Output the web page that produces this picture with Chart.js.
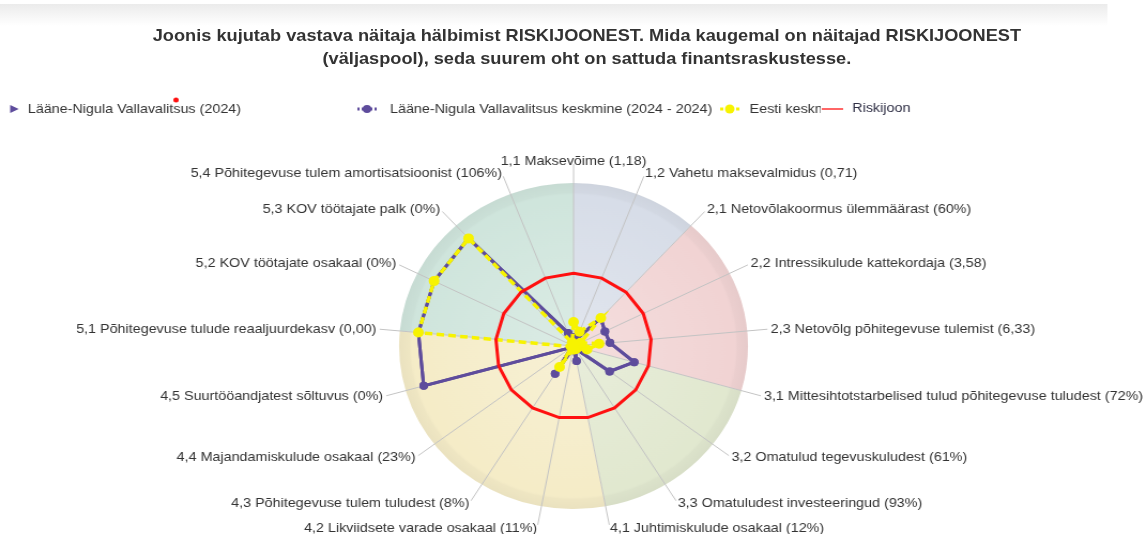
<!DOCTYPE html>
<html>
<head>
<meta charset="utf-8">
<script src="https://cdn.jsdelivr.net/npm/chart.js@4.4.1/dist/chart.umd.min.js"></script>
<style>
  html, body { margin: 0; padding: 0; background: #fff; overflow: hidden; }
  #page {
    position: relative; width: 1068px; height: 534px;
    transform: scaleX(1.07); transform-origin: 0 0;
    font-family: "Liberation Sans", Arial, sans-serif;
  }
  #band {
    position: absolute; left: 0; top: 4px; width: 1035px; height: 22px;
    background: linear-gradient(#ebebeb, #ffffff);
  }
  #title {
    position: absolute; left: 0; top: 24px; width: 1097px;
    text-align: center; font-weight: bold; font-size: 17px; line-height: 23px; color: #333;
  }
  #chart { position: absolute; left: 0; top: 0; }
</style>
</head>
<body>
<div id="page">
  <div id="band"></div>
  <div id="title">Joonis kujutab vastava näitaja hälbimist RISKIJOONEST. Mida kaugemal on näitajad RISKIJOONEST<br>(väljaspool), seda suurem oht on sattuda finantsraskustesse.</div>
  <canvas id="chart" width="1068" height="534"></canvas>
</div>
<script>
// axes, clockwise from the top
const AXIS_LABELS = [
  '1,1 Maksevõime (1,18)',
  '1,2 Vahetu maksevalmidus (0,71)',
  '2,1 Netovõlakoormus ülemmäärast (60%)',
  '2,2 Intressikulude kattekordaja (3,58)',
  '2,3 Netovõlg põhitegevuse tulemist (6,33)',
  '3,1 Mittesihtotstarbelised tulud põhitegevuse tuludest (72%)',
  '3,2 Omatulud tegevuskuludest (61%)',
  '3,3 Omatuludest investeeringud (93%)',
  '4,1 Juhtimiskulude osakaal (12%)',
  '4,2 Likviidsete varade osakaal (11%)',
  '4,3 Põhitegevuse tulem tuludest (8%)',
  '4,4 Majandamiskulude osakaal (23%)',
  '4,5 Suurtööandjatest sõltuvus (0%)',
  '5,1 Põhitegevuse tulude reaaljuurdekasv (0,00)',
  '5,2 KOV töötajate osakaal (0%)',
  '5,3 KOV töötajate palk (0%)',
  '5,4 Põhitegevuse tulem amortisatsioonist (106%)'
];

// deviation from the risk line (1 = on the line)
const VALD_2024 =      [0.12, 0.10, 0.52, 0.45, 0.47, 0.81, 0.58, 0.04, 0.21, 0.03, 0.45, 0.03, 2.00, 2.00, 2.00, 2.00, 0.19];
const VALD_KESKMINE =  [0.12, 0.10, 0.52, 0.45, 0.47, 0.81, 0.58, 0.04, 0.21, 0.03, 0.45, 0.03, 2.00, 2.00, 2.00, 2.00, 0.19];
const EESTI_KESKMINE = [0.33, 0.21, 0.52, 0.10, 0.33, 0.18, 0.05, 0.05, 0.05, 0.05, 0.34, 0.03, 0.03, 2.00, 2.00, 2.00, 0.05];
const RISKIJOON =      [1, 1, 1, 1, 1, 1, 1, 1, 1, 1, 1, 1, 1, 1, 1, 1, 1];

const SERIES_NAMES = [
  'Lääne-Nigula Vallavalitsus (2024)',
  'Lääne-Nigula Vallavalitsus keskmine (2024 - 2024)',
  'Eesti keskmine',
  'Riskijoon'
];

// background sector colours for groups 1..5
const GROUP_COLORS = ['#d7dde8', '#f1d3d3', '#e1e8cf', '#f5ecc7', '#cfe5dc'];

const PURPLE = '#5e4c9c';
const YELLOW = '#f7f300';
const RED = '#ff1010';
const SCALE_MAX = 2.5;
const PIE_MAX = 2.24;
const LABEL_R = 185;
const TEXT_FONT = '13.4px "Liberation Sans", Arial, sans-serif';

// coloured pie behind the radar
const sectorPlugin = {
  id: 'sectors',
  beforeDraw(chart) {
    const r = chart.scales.r;
    const ctx = chart.ctx;
    const R = r.getDistanceFromCenterForValue(PIE_MAX);
    const n = AXIS_LABELS.length;
    const step = Math.PI * 2 / n;
    // group axes by their first number
    const groups = [];
    AXIS_LABELS.forEach((l, i) => {
      const g = l.split(',')[0];
      if (!groups.length || groups[groups.length - 1].g !== g) groups.push({ g, start: i, count: 0 });
      groups[groups.length - 1].count++;
    });
    ctx.save();
    groups.forEach((grp, k) => {
      const a0 = r.getIndexAngle(grp.start) - Math.PI / 2;
      const a1 = a0 + grp.count * step;
      ctx.beginPath();
      ctx.moveTo(r.xCenter, r.yCenter);
      ctx.arc(r.xCenter, r.yCenter, R, a0, a1);
      ctx.closePath();
      ctx.fillStyle = GROUP_COLORS[k];
      ctx.fill();
    });
    const grad = ctx.createRadialGradient(r.xCenter, r.yCenter, 0, r.xCenter, r.yCenter, R);
    grad.addColorStop(0, 'rgba(255,255,255,0.25)');
    grad.addColorStop(0.92, 'rgba(255,255,255,0)');
    grad.addColorStop(0.94, 'rgba(90,90,90,0.04)');
    grad.addColorStop(1, 'rgba(90,90,90,0.07)');
    ctx.beginPath();
    ctx.arc(r.xCenter, r.yCenter, R, 0, Math.PI * 2);
    ctx.fillStyle = grad;
    ctx.fill();
    ctx.restore();
  }
};

// axis labels
const labelPlugin = {
  id: 'axisLabels',
  afterDraw(chart) {
    const r = chart.scales.r;
    const ctx = chart.ctx;
    ctx.save();
    ctx.font = TEXT_FONT;
    ctx.fillStyle = '#333';
    ctx.textBaseline = 'middle';
    AXIS_LABELS.forEach((text, i) => {
      const s = Math.sin(r.getIndexAngle(i));
      const top = Math.abs(s) < 0.05;
      const p = r.getPointPosition(i, LABEL_R);
      ctx.textAlign = top ? 'center' : (s > 0 ? 'left' : 'right');
      ctx.fillText(text, p.x, p.y);
    });
    ctx.restore();
  }
};

// legend row
const legendPlugin = {
  id: 'legendRow',
  afterDraw(chart) {
    const ctx = chart.ctx;
    const y = 109;
    ctx.save();
    ctx.font = TEXT_FONT;
    ctx.textBaseline = 'middle';

    // 1: pennant
    ctx.fillStyle = PURPLE;
    ctx.beginPath();
    ctx.moveTo(9.5, y - 4);
    ctx.lineTo(17.5, y);
    ctx.lineTo(9.5, y + 4);
    ctx.closePath();
    ctx.fill();
    ctx.fillStyle = '#333';
    ctx.fillText(SERIES_NAMES[0], 26, y);
    ctx.fillStyle = RED;
    ctx.beginPath();
    ctx.arc(164.5, y - 9, 2.5, 0, Math.PI * 2);
    ctx.fill();

    // 2: purple line + dot
    ctx.strokeStyle = PURPLE;
    ctx.lineWidth = 3;
    ctx.setLineDash([2, 2]);
    ctx.beginPath(); ctx.moveTo(334, y); ctx.lineTo(352, y); ctx.stroke();
    ctx.setLineDash([]);
    ctx.fillStyle = PURPLE;
    ctx.beginPath(); ctx.arc(343, y, 4, 0, Math.PI * 2); ctx.fill();
    ctx.fillStyle = '#333';
    ctx.fillText(SERIES_NAMES[1], 364.5, y);

    // 3: yellow dashed + dot, text clipped
    ctx.strokeStyle = YELLOW;
    ctx.setLineDash([3, 2]);
    ctx.beginPath(); ctx.moveTo(673, y); ctx.lineTo(691, y); ctx.stroke();
    ctx.setLineDash([]);
    ctx.fillStyle = YELLOW;
    ctx.beginPath(); ctx.arc(682, y, 4.5, 0, Math.PI * 2); ctx.fill();
    ctx.save();
    ctx.beginPath(); ctx.rect(695, y - 12, 72, 24); ctx.clip();
    ctx.fillStyle = '#333';
    ctx.fillText(SERIES_NAMES[2], 700.5, y);
    ctx.restore();

    // 4: red line
    ctx.strokeStyle = '#ff6666';
    ctx.lineWidth = 2;
    ctx.beginPath(); ctx.moveTo(768, y); ctx.lineTo(788, y); ctx.stroke();
    ctx.fillStyle = '#2f2f45';
    ctx.fillText(SERIES_NAMES[3], 796.5, y - 1);
    ctx.restore();
  }
};

const ctx = document.getElementById('chart').getContext('2d');
new Chart(ctx, {
  type: 'radar',
  data: {
    labels: AXIS_LABELS,
    datasets: [
      {
        label: SERIES_NAMES[0], data: VALD_2024, order: 3,
        borderColor: PURPLE, backgroundColor: 'transparent', fill: false,
        borderWidth: 3, pointRadius: 4, pointBorderWidth: 0, pointBackgroundColor: PURPLE
      },
      {
        label: SERIES_NAMES[1], data: VALD_KESKMINE, order: 2,
        borderColor: PURPLE, backgroundColor: 'transparent', fill: false,
        borderWidth: 3, pointRadius: 4, pointBorderWidth: 0, pointBackgroundColor: PURPLE
      },
      {
        label: SERIES_NAMES[2], data: EESTI_KESKMINE, order: 1,
        borderColor: YELLOW, backgroundColor: 'transparent', fill: false,
        borderWidth: 3.5, borderDash: [7, 4], pointRadius: 5, pointBorderWidth: 0, pointBackgroundColor: YELLOW
      },
      {
        label: SERIES_NAMES[3], data: RISKIJOON, order: 0,
        borderColor: RED, backgroundColor: 'transparent', fill: false,
        borderWidth: 3, pointRadius: 0
      }
    ]
  },
  options: {
    responsive: false,
    animation: false,
    layout: { padding: { left: 354, right: 349, top: 164, bottom: 6 } },
    plugins: {
      legend: { display: false },
      title: { display: false },
      tooltip: { enabled: false }
    },
    elements: { line: { tension: 0 } },
    scales: {
      r: {
        min: 0,
        max: SCALE_MAX,
        ticks: { display: false },
        grid: { display: false },
        angleLines: { color: '#c4c4c4', lineWidth: 1 },
        pointLabels: { display: false }
      }
    }
  },
  plugins: [sectorPlugin, labelPlugin, legendPlugin]
});
</script>
</body>
</html>
